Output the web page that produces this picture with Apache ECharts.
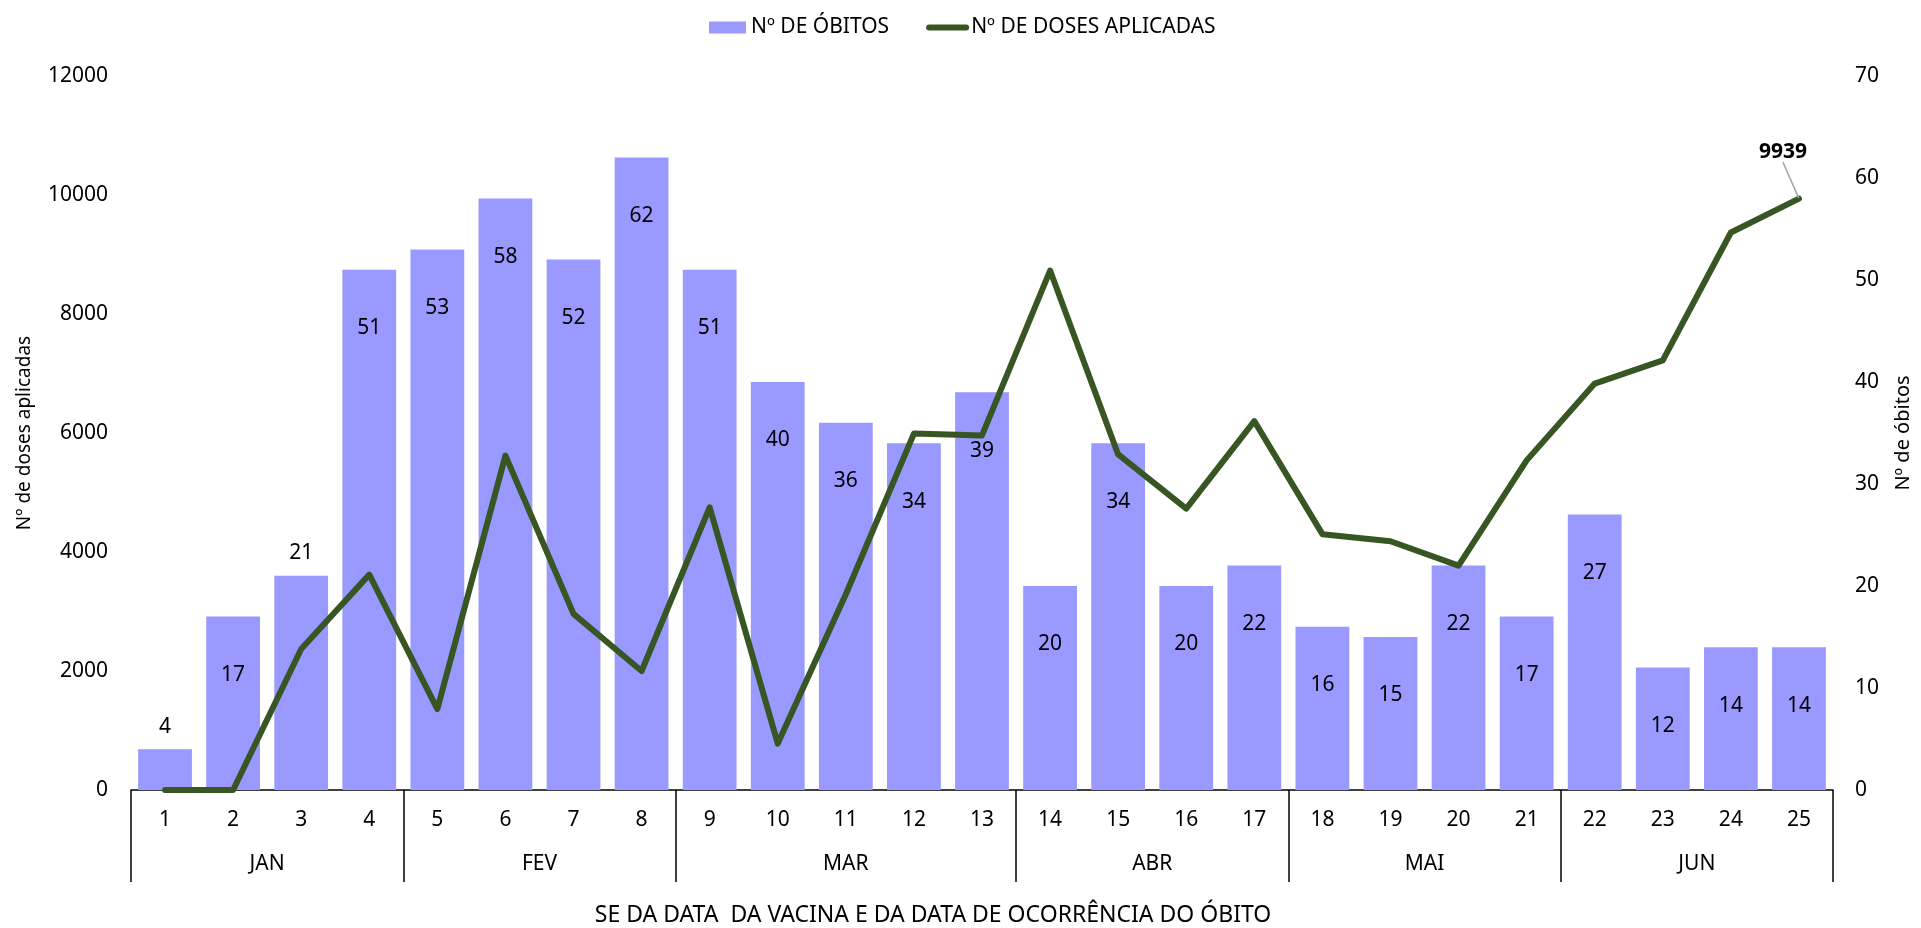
<!DOCTYPE html>
<html>
<head>
<meta charset="utf-8">
<script src="https://cdn.jsdelivr.net/npm/echarts@6/dist/echarts.min.js"></script>
<style>
html,body{margin:0;padding:0;background:#ffffff;}
#chart{width:1921px;height:928px;}
</style>
</head>
<body>
<div id="chart"></div>
<script>
// ---- data ----
const weeks = ['1','2','3','4','5','6','7','8','9','10','11','12','13','14','15','16','17','18','19','20','21','22','23','24','25'];
const deaths = [4,17,21,51,53,58,52,62,51,40,36,34,39,20,34,20,22,16,15,22,17,27,12,14,14];
const doses = [0,0,2370,3620,1360,5620,2960,2000,4750,780,3290,5990,5960,8730,5640,4730,6200,4300,4180,3770,5540,6830,7220,9370,9939];
const months = ['JAN','FEV','MAR','ABR','MAI','JUN'];
const monthSpans = [4,4,5,4,4,4];
const seriesNames = ['Nº DE ÓBITOS','Nº DE DOSES APLICADAS'];
const leftAxisName = 'Nº de doses aplicadas';
const rightAxisName = 'Nº de óbitos';
const xTitle = 'SE DA DATA  DA VACINA E DA DATA DE OCORRÊNCIA DO ÓBITO';

// ---- derived ----
const boundaries = [0];
const centers = [];
monthSpans.forEach((s, i) => { centers.push(boundaries[i] + s / 2); boundaries.push(boundaries[i] + s); });

const FONT = '"Noto Sans", "Open Sans", sans-serif';
const barColor = '#9999ff';
const lineColor = '#375623';

// label placement exceptions (bars whose label sits above)
const labelAbove = {0: 12, 2: 12};

const barData = deaths.map((v, i) => {
  if (labelAbove[i] !== undefined) {
    return {value: v, label: {position: 'top', distance: labelAbove[i]}};
  }
  return v;
});

const lastIdx = doses.length - 1;
const lineData = doses.map((v, i) => i === lastIdx
  ? {value: v, label: {show: true, position: 'top', fontWeight: 'bold', fontSize: 21, color: '#000', fontFamily: FONT, formatter: '{c}'}}
  : v);

const chart = echarts.init(document.getElementById('chart'), null, {renderer: 'canvas'});
chart.setOption({
  backgroundColor: '#ffffff',
  animation: false,
  textStyle: {fontFamily: FONT, color: '#000'},
  legend: {
    top: 12,
    left: 704,
    itemWidth: 37,
    itemHeight: 12,
    itemGap: 37,
    textStyle: {fontSize: 21, color: '#000', fontFamily: FONT},
    data: [
      {name: seriesNames[0], icon: 'rect'},
      {name: seriesNames[1], lineStyle: {width: 6, color: lineColor}, itemStyle: {opacity: 0}}
    ]
  },
  grid: {left: 131, right: 83, top: 76, bottom: 138, containLabel: false},
  xAxis: [
    {
      type: 'category',
      data: weeks,
      position: 'bottom',
      axisLine: {show: true, lineStyle: {color: '#000', width: 1.5}},
      axisTick: {show: false},
      axisLabel: {color: '#000', fontSize: 21, margin: 20, fontFamily: FONT},
      splitLine: {show: false}
    },
    {
      type: 'value',
      position: 'bottom',
      min: 0,
      max: weeks.length,
      axisLine: {show: false},
      splitLine: {show: false},
      axisTick: {show: true, customValues: boundaries, length: 92, lineStyle: {color: '#000', width: 1.5}},
      axisLabel: {
        show: true,
        customValues: centers,
        margin: 64,
        fontSize: 21,
        color: '#000',
        fontFamily: FONT,
        formatter: function (v) {
          for (let i = 0; i < centers.length; i++) if (Math.abs(centers[i] - v) < 1e-6) return months[i];
          return '';
        }
      }
    }
  ],
  yAxis: [
    {
      type: 'value',
      min: 0, max: 12000, interval: 2000,
      position: 'left',
      name: leftAxisName,
      nameLocation: 'middle',
      nameRotate: 90,
      nameGap: 97,
      nameTextStyle: {fontSize: 19, color: '#000', fontFamily: FONT},
      axisLine: {show: false},
      axisTick: {show: false},
      splitLine: {show: false},
      axisLabel: {color: '#000', fontSize: 21, margin: 23, fontFamily: FONT, formatter: v => String(v)}
    },
    {
      type: 'value',
      min: 0, max: 70, interval: 10,
      position: 'right',
      name: rightAxisName,
      nameLocation: 'middle',
      nameRotate: 90,
      nameGap: 60,
      nameTextStyle: {fontSize: 20, color: '#000', fontFamily: FONT},
      axisLine: {show: false},
      axisTick: {show: false},
      splitLine: {show: false},
      axisLabel: {color: '#000', fontSize: 21, margin: 22, fontFamily: FONT, formatter: v => String(v)}
    }
  ],
  series: [
    {
      name: seriesNames[0],
      type: 'bar',
      xAxisIndex: 0,
      yAxisIndex: 1,
      data: barData,
      barCategoryGap: '21%',
      itemStyle: {color: barColor},
      label: {show: true, position: 'insideTop', distance: 48, fontSize: 21, color: '#000', fontFamily: FONT},
      z: 2
    },
    {
      name: seriesNames[1],
      type: 'line',
      xAxisIndex: 0,
      yAxisIndex: 0,
      data: lineData,
      symbol: 'circle',
      symbolSize: 1,
      showSymbol: true,
      showAllSymbol: true,
      lineStyle: {color: lineColor, width: 6, join: 'round', cap: 'round'},
      itemStyle: {color: lineColor},
      labelLine: {show: true, lineStyle: {color: '#a6a6a6', width: 1.5}},
      labelLayout: function (p) {
        if (p.dataIndex === lastIdx) return {dx: -16, dy: -31};
        return {};
      },
      z: 5
    }
  ],
  graphic: [
    {
      type: 'text',
      x: 933,
      y: 915,
      style: {text: xTitle, fontSize: 23, fill: '#000', fontFamily: FONT, align: 'center', verticalAlign: 'middle'}
    }
  ]
});
</script>
</body>
</html>
